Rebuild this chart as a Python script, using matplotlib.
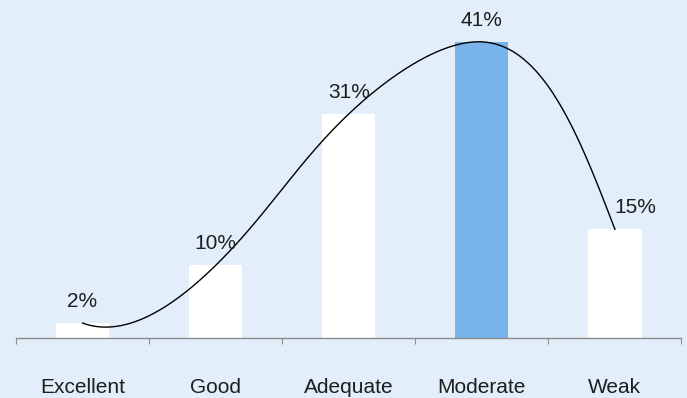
import numpy as np
import matplotlib
matplotlib.use("Agg")
import matplotlib.pyplot as plt

# Rating distribution
categories = ["Excellent", "Good", "Adequate", "Moderate", "Weak"]
shares = [2, 10, 31, 41, 15]          # percent
highlight = "Moderate"

BG = "#E2EEF9"
BAR = "#FFFFFF"
BAR_HI = "#78B3EA"
AXIS = "#8C8C8C"
TEXT = "#1E1E1E"
START_ANGLE = -20.0                   # degrees, initial heading of the trend curve

plt.rcParams["font.family"] = ["Liberation Sans", "DejaVu Sans"]


def spline_through(P, start_dir, n=80):
    """Parametric cubic spline (chord-length parameter) through points P,
    clamped to a unit heading at the start and natural at the end."""
    m = len(P)
    h = np.hypot(*np.diff(P, axis=0).T)
    A = np.zeros((m, m))
    rhs = np.zeros((m, 2))
    A[0, 0], A[0, 1] = 2 * h[0], h[0]
    rhs[0] = 6 * ((P[1] - P[0]) / h[0] - start_dir)
    for i in range(1, m - 1):
        A[i, i - 1] = h[i - 1]
        A[i, i] = 2 * (h[i - 1] + h[i])
        A[i, i + 1] = h[i]
        rhs[i] = 6 * ((P[i + 1] - P[i]) / h[i] - (P[i] - P[i - 1]) / h[i - 1])
    A[-1, -1] = 1.0
    M = np.linalg.solve(A, rhs)
    pts = []
    for i in range(m - 1):
        u = np.linspace(0, h[i], n)[:, None]
        hi = h[i]
        seg = (M[i] * (hi - u) ** 3 / (6 * hi) + M[i + 1] * u ** 3 / (6 * hi)
               + (P[i] / hi - M[i] * hi / 6) * (hi - u)
               + (P[i + 1] / hi - M[i + 1] * hi / 6) * u)
        pts.append(seg if i == 0 else seg[1:])
    return np.vstack(pts)


fig = plt.figure(figsize=(6.87, 3.98), dpi=100, facecolor=BG)
ax = fig.add_axes([16 / 687, (398 - 337.5) / 398, 665.5 / 687, (337.5 - 13) / 398])
ax.set_facecolor(BG)
ax.set_xlim(-0.5, len(categories) - 0.5)
ax.set_ylim(0, 45)

x = np.arange(len(categories))
colors = [BAR_HI if c == highlight else BAR for c in categories]
ax.bar(x, shares, width=0.4, color=colors, zorder=2)

# smooth trend line through the bar tops, built in display space
disp = ax.transData.transform(np.column_stack([x, shares]).astype(float))
a = np.radians(START_ANGLE)
curve = spline_through(disp, np.array([np.cos(a), np.sin(a)]))
curve = ax.transData.inverted().transform(curve)
ax.plot(curve[:, 0], curve[:, 1], color="black", lw=1.0, zorder=3)

for i, (c, v) in enumerate(zip(categories, shares)):
    dx = 14.4 if c == "Weak" else 0
    ax.annotate(f"{v}%", xy=(i, v), xytext=(dx, 11.5), textcoords="offset points",
                ha="center", va="baseline", fontsize=15, color=TEXT, zorder=4)

ax.set_yticks([])
for s in ("top", "right", "left"):
    ax.spines[s].set_visible(False)
ax.spines["bottom"].set_color(AXIS)
ax.spines["bottom"].set_linewidth(1.0)

ax.set_xticks(np.arange(-0.5, len(categories)), labels=[""] * (len(categories) + 1))
ax.tick_params(axis="x", which="major", direction="out", length=4.5, width=0.8, color=AXIS)
ax.set_xticks(x, labels=categories, minor=True)
ax.tick_params(axis="x", which="minor", length=0, pad=40, labelsize=15, labelcolor=TEXT)
for lbl in ax.get_xticklabels(minor=True):
    lbl.set_va("baseline")

fig.savefig("out.png", dpi=100, facecolor=BG)
